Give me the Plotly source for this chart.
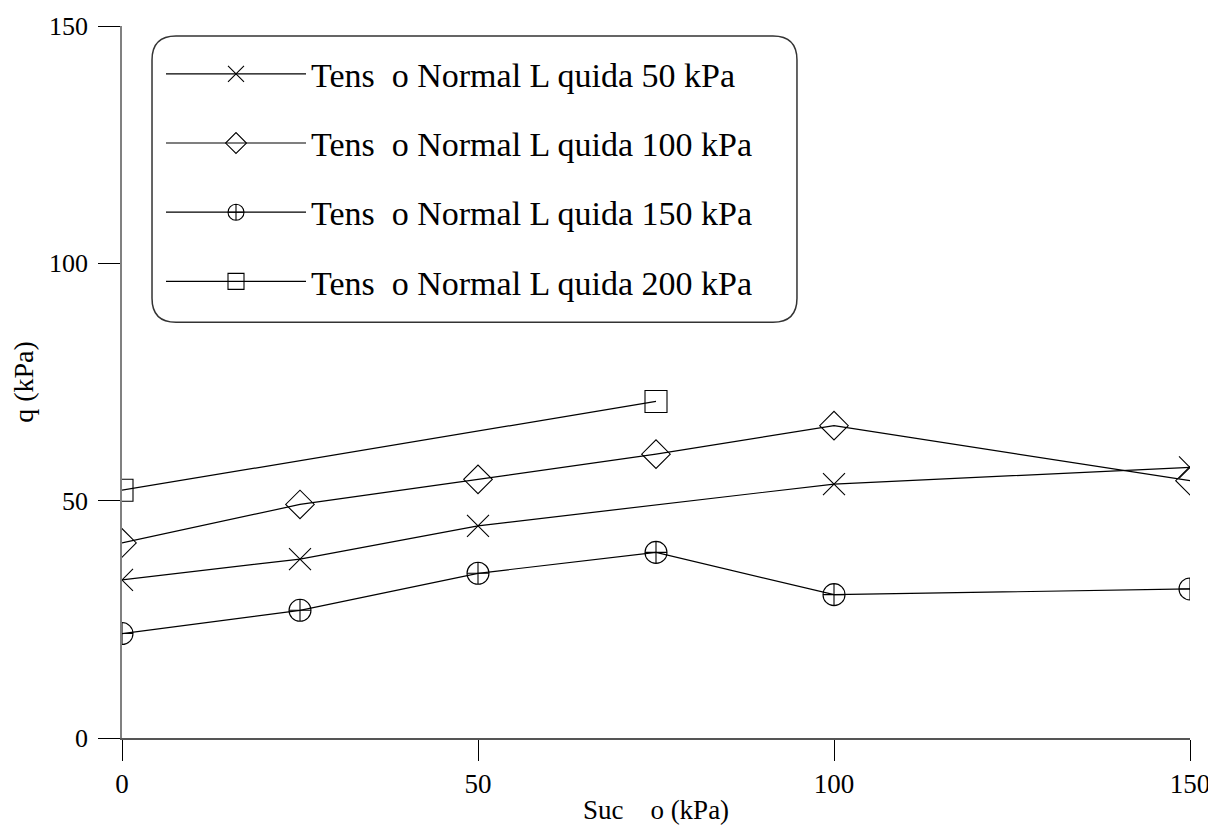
import plotly.graph_objects as go

# ---- data ----
suction_50 = [0, 25, 50, 100, 150]
q_50 = [33.3, 37.7, 44.7, 53.5, 57.0]

suction_100 = [0, 25, 50, 75, 100, 150]
q_100 = [41.1, 49.2, 54.5, 59.8, 65.8, 54.2]

suction_150 = [0, 25, 50, 75, 100, 150]
q_150 = [22.0, 26.9, 34.7, 39.1, 30.2, 31.4]

suction_200 = [0, 75]
q_200 = [52.2, 70.9]

series_names = [
    "Tens  o Normal L quida 50 kPa",
    "Tens  o Normal L quida 100 kPa",
    "Tens  o Normal L quida 150 kPa",
    "Tens  o Normal L quida 200 kPa",
]
x_ticks = [0, 50, 100, 150]
y_ticks = [0, 50, 100, 150]

FONT = "Liberation Serif, Times New Roman, serif"

fig = go.Figure()
series = [
    (suction_50, q_50, "x-thin-open"),
    (suction_100, q_100, "diamond-open"),
    (suction_150, q_150, "circle-cross-open"),
    (suction_200, q_200, "square-open"),
]
for i, (xs, ys, sym) in enumerate(series):
    fig.add_trace(go.Scatter(
        x=xs, y=ys, mode="lines+markers", name=series_names[i],
        legendgroup=f"g{i}",
        line=dict(color="black", width=1.2),
        marker=dict(symbol=sym, size=22, color="black",
                    line=dict(color="black", width=1.1)),
    ))

# rounded legend frame (paper coords)
L, R, B, T = 0.0281, 0.632, 0.584, 0.986
rx, ry = 24 / 1068, 24 / 712
path = (f"M {L+rx},{T} L {R-rx},{T} Q {R},{T} {R},{T-ry} "
        f"L {R},{B+ry} Q {R},{B} {R-rx},{B} "
        f"L {L+rx},{B} Q {L},{B} {L},{B+ry} "
        f"L {L},{T-ry} Q {L},{T} {L+rx},{T} Z")
fig.add_shape(type="path", path=path, xref="paper", yref="paper",
              line=dict(color="#333333", width=1.5), fillcolor="rgba(0,0,0,0)",
              layer="below")

# page body has an 8px margin: figure is offset by 8px right and down
fig.update_layout(
    width=1208, height=817,
    margin=dict(l=114, r=26, t=18, b=87),
    paper_bgcolor="white", plot_bgcolor="white",
    font=dict(family=FONT, color="black", size=26),
    showlegend=True,
    legend=dict(
        x=(161 - 122) / 1068, y=0.973, xanchor="left", yanchor="top",
        bgcolor="rgba(0,0,0,0)", borderwidth=0,
        font=dict(family=FONT, size=34, color="black"),
        itemwidth=140, tracegroupgap=22,
    ),
    xaxis=dict(
        range=[0, 150], tickmode="array", tickvals=x_ticks,
        showgrid=False, zeroline=False, automargin=False,
        showline=True, linecolor="#555555", linewidth=1.5,
        ticks="outside", ticklen=21, tickcolor="black", tickwidth=1,
        tickfont=dict(family=FONT, size=27),
        title=dict(text="Suc    o (kPa)", font=dict(family=FONT, size=27), standoff=11),
    ),
    yaxis=dict(
        range=[0, 150], tickmode="array", tickvals=y_ticks,
        showgrid=False, zeroline=False, automargin=False,
        showline=True, linecolor="#808080", linewidth=1.5,
        ticks="outside", ticklen=22, tickcolor="black", tickwidth=1,
        ticklabelstandoff=5,
        tickfont=dict(family=FONT, size=26),
        title=dict(text="q (kPa)", font=dict(family=FONT, size=28), standoff=21),
    ),
)

fig.write_html("out.html")
